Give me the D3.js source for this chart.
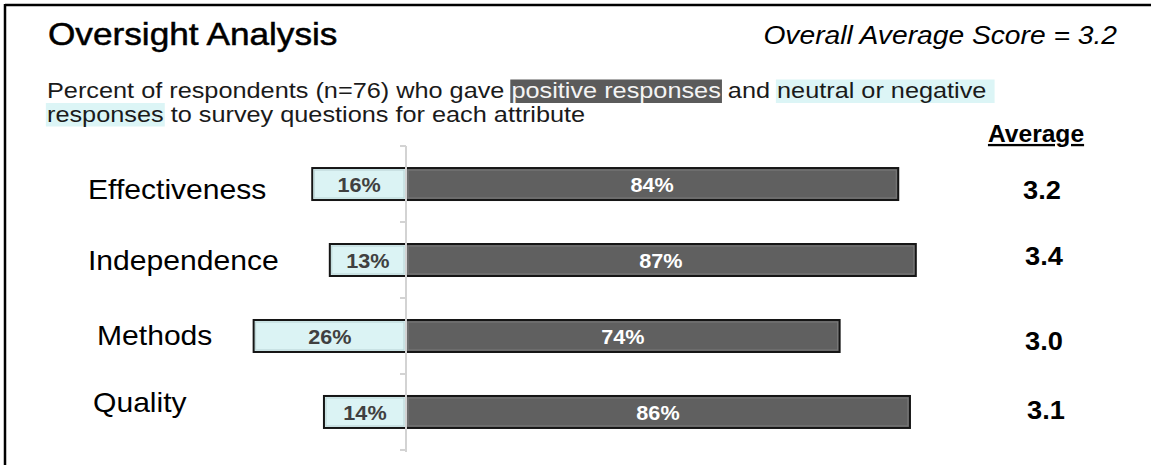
<!DOCTYPE html>
<html>
<head>
<meta charset="utf-8">
<script src="https://cdn.jsdelivr.net/npm/d3@7"></script>
<style>
  html, body { margin: 0; padding: 0; background: #fff; }
  svg text { white-space: pre; }
</style>
</head>
<body>
<svg id="chart" width="1151" height="465"></svg>
<script>
// Survey attributes and response shares (percent of respondents)
const categories = ["Effectiveness", "Independence", "Methods", "Quality"];
const negativeShare = [16, 13, 26, 14];   // neutral or negative responses
const positiveShare = [84, 87, 74, 86];   // positive responses
const averageScore = [3.2, 3.4, 3.0, 3.1];
const overallAverage = 3.2;
const respondents = 76;

// Hand-placed offsets of the side labels relative to each bar's centre
const catNudge = [[0, 15], [0, 10], [9, 9], [5, 0]];
const avgNudge = [[-2, 15], [0, 5], [0, 14], [2, 7]];

const svg = d3.select("#chart");
const FONT = "'Liberation Sans', Arial, sans-serif";

// Text helper: anchored at (x, y) and optionally stretched horizontally
function label(parent, str, x, y, o = {}) {
  const g = parent.append("g")
    .attr("transform", `translate(${x},${y}) scale(${o.sx || 1},1)`);
  const t = g.append("text")
    .attr("x", 0).attr("y", 0)
    .attr("text-anchor", o.anchor || "start")
    .style("font-family", FONT)
    .style("font-size", (o.size || 16) + "px")
    .style("font-weight", o.weight || "normal")
    .style("font-style", o.style || "normal")
    .style("fill", o.fill || "#000")
    .text(str);
  if (o.underline) t.style("text-decoration", "underline");
  if (o.halo) t.attr("stroke", o.fill || "#000").attr("stroke-width", o.halo);
  return t;
}

// Frame
svg.append("line").attr("x1", 5).attr("x2", 1151).attr("y1", 5).attr("y2", 5)
  .attr("stroke", "#000").attr("stroke-width", 2.5);
svg.append("line").attr("x1", 5).attr("x2", 5).attr("y1", 4).attr("y2", 465)
  .attr("stroke", "#000").attr("stroke-width", 2.5);

// Header
label(svg, "Oversight Analysis", 48, 45, { size: 32, sx: 1.1, halo: 0.5 });
label(svg, `Overall Average Score = ${overallAverage.toFixed(1)}`, 1117, 44,
  { size: 26.5, sx: 1.065, anchor: "end", style: "italic" });

// Subtitle with highlighted key phrases (acts as the legend)
const subSize = 22, subSx = 1.15;
function subtitleLine(parts, x0, y) {
  let x = x0;
  parts.forEach(p => {
    const g = svg.append("g").attr("transform", `translate(${x},${y}) scale(${subSx},1)`);
    const bg = g.append("rect");
    const t = g.append("text")
      .style("font-family", FONT).style("font-size", subSize + "px")
      .style("fill", p.fg || "#1a1a1a").text(p.text);
    const w = t.node().getComputedTextLength();
    if (p.bg) {
      bg.attr("x", -1).attr("y", -18.5).attr("width", w + 2).attr("height", 23.5).attr("fill", p.bg);
    } else bg.remove();
    x += w * subSx;
  });
}
subtitleLine([
  { text: `Percent of respondents (n=${respondents}) who gave ` },
  { text: "positive responses", bg: "#5b5b5b", fg: "#f4f4f4" },
  { text: " and " },
  { text: "neutral or negative ", bg: "#dcf5f6" }
], 47, 98);
subtitleLine([
  { text: "responses", bg: "#dcf5f6" },
  { text: " to survey questions for each attribute" }
], 47, 121.5);

// Scales
const x = d3.scaleLinear().domain([-30, 100]).range([230.2, 992]);
const y = d3.scaleBand().domain(categories).range([146, 450])
  .paddingInner(0.579).paddingOuter(0.29);

const rows = categories.map((c, i) => ({
  cat: c, neg: negativeShare[i], pos: positiveShare[i], avg: averageScore[i], i
}));

const barG = svg.append("g");
// Neutral / negative segment (left of zero)
barG.selectAll("rect.neg").data(rows).join("rect").attr("class", "neg")
  .attr("x", d => x(-d.neg)).attr("y", d => y(d.cat))
  .attr("width", d => x(0) - x(-d.neg)).attr("height", y.bandwidth())
  .attr("fill", "#dbf3f4").attr("stroke", "#151515").attr("stroke-width", 2);
// Positive segment (right of zero)
barG.selectAll("rect.pos").data(rows).join("rect").attr("class", "pos")
  .attr("x", x(0)).attr("y", d => y(d.cat))
  .attr("width", d => x(d.pos) - x(0)).attr("height", y.bandwidth())
  .attr("fill", "#606060").attr("stroke", "#151515").attr("stroke-width", 2);
// Soft inner edge on each segment
barG.selectAll("rect.edge").data(rows.flatMap(d => [
    { x0: x(-d.neg), x1: x(0), cat: d.cat, c: "#b9d3d4" },
    { x0: x(0), x1: x(d.pos), cat: d.cat, c: "#7a7a7a" }]))
  .join("rect").attr("class", "edge")
  .attr("x", d => d.x0 + 2).attr("y", d => y(d.cat) + 2)
  .attr("width", d => d.x1 - d.x0 - 4).attr("height", y.bandwidth() - 4)
  .attr("fill", "none").attr("stroke", d => d.c).attr("stroke-width", 1);

// Zero axis with ticks at the band boundaries
const step = y.step();
const axisG = svg.append("g");
const axisTop = y(categories[0]) + y.bandwidth() / 2 - step / 2;
const boundaries = d3.range(categories.length + 1).map(k => axisTop + k * step);
axisG.append("line").attr("x1", x(0)).attr("x2", x(0))
  .attr("y1", boundaries[0]).attr("y2", boundaries[boundaries.length - 1] + 2)
  .attr("stroke", "#d3d3d3").attr("stroke-width", 2);
axisG.selectAll("line.tick").data(boundaries).join("line").attr("class", "tick")
  .attr("x1", x(0) - 6).attr("x2", x(0)).attr("y1", d => d).attr("y2", d => d)
  .attr("stroke", "#d3d3d3").attr("stroke-width", 2);

// Segment value labels
rows.forEach(d => {
  const cy = y(d.cat) + y.bandwidth() / 2 + 8;
  label(svg, d.neg + "%", (x(-d.neg) + x(0)) / 2, cy,
    { size: 21, weight: "bold", anchor: "middle", fill: "#404040", sx: 1.03 });
  label(svg, d.pos + "%", (x(0) + x(d.pos)) / 2, cy,
    { size: 21, weight: "bold", anchor: "middle", fill: "#ffffff", sx: 1.03 });
});

// Category labels
rows.forEach(d => {
  const cy = y(d.cat) + y.bandwidth() / 2;
  label(svg, d.cat, 88 + catNudge[d.i][0], cy + catNudge[d.i][1], { size: 27, sx: 1.115 });
});

// Average score column
label(svg, "Average", 1036, 142, { size: 23, weight: "bold", anchor: "middle", sx: 1.07, underline: true });
rows.forEach(d => {
  const cy = y(d.cat) + y.bandwidth() / 2;
  label(svg, d.avg.toFixed(1), 1044 + avgNudge[d.i][0], cy + avgNudge[d.i][1],
    { size: 25, weight: "bold", anchor: "middle", sx: 1.09 });
});
</script>
</body>
</html>
